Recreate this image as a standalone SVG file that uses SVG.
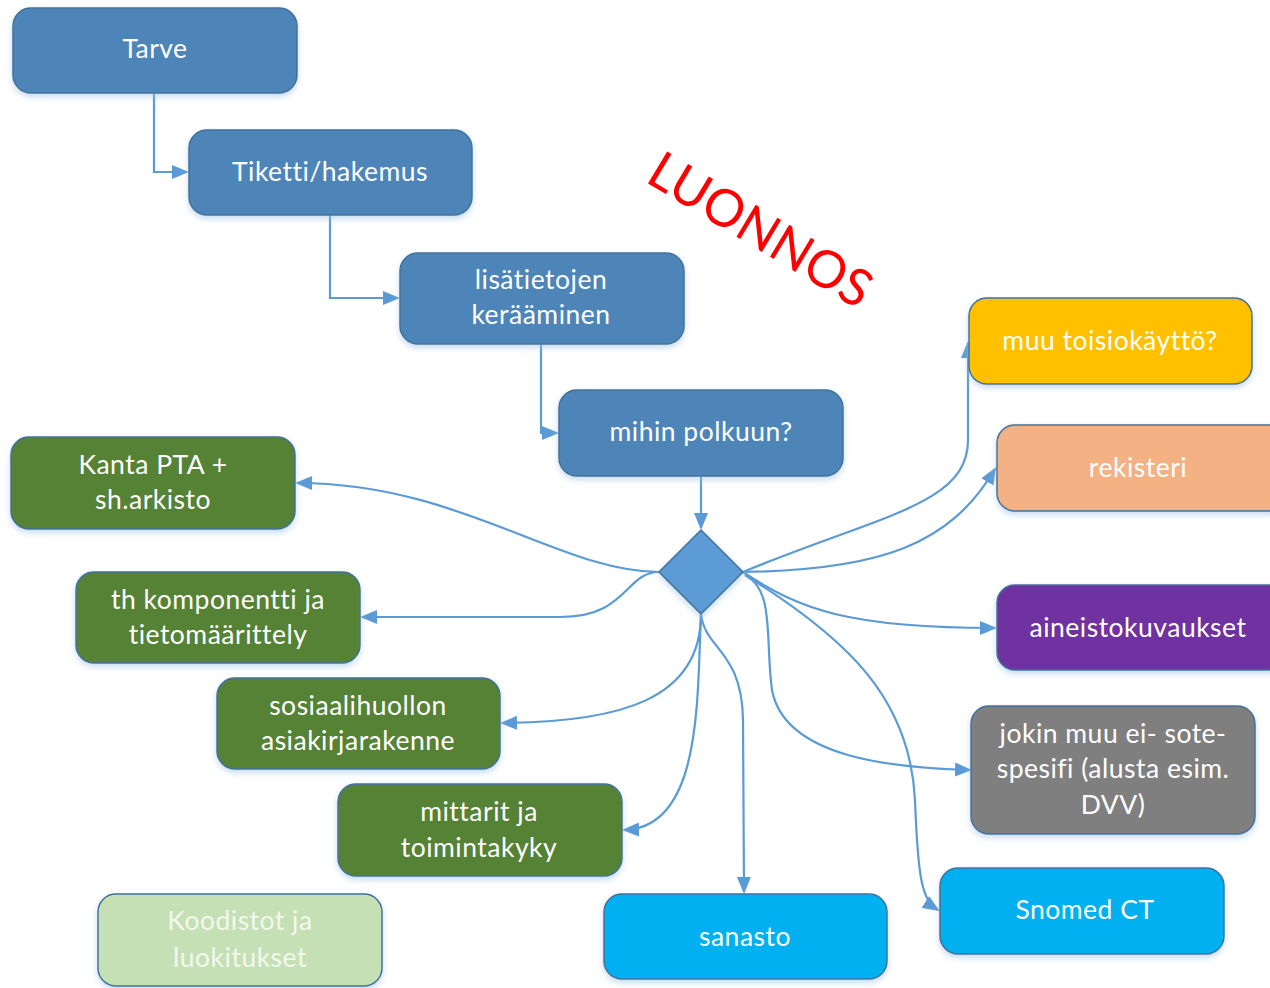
<svg xmlns="http://www.w3.org/2000/svg" width="1270" height="988" viewBox="0 0 1270 988">
<style>
.box{stroke:#41719c;stroke-width:1.5;filter:url(#sh)}
.t{font-family:Lato,"Open Sans","Liberation Sans",sans-serif;font-size:26.5px;letter-spacing:0.5px;font-variant-ligatures:none;fill:#ffffff;text-anchor:middle}
.c{fill:none;stroke:#5b9bd5;stroke-width:2.2}
</style>
<defs>
<filter id="sh" x="-10%" y="-10%" width="120%" height="130%">
<feDropShadow dx="0" dy="3" stdDeviation="3" flood-color="#9dc3e6" flood-opacity="0.6"/>
</filter>
<marker id="b" markerWidth="17" markerHeight="16" refX="15" refY="8" orient="auto" markerUnits="userSpaceOnUse" viewBox="0 0 17 16">
<path d="M0,1 L17,8 L0,15 z" fill="#5b9bd5"/>
</marker>
</defs>
<rect width="1270" height="988" fill="#ffffff"/>

<g id="connectors">
<path class="c" marker-end="url(#b)" d="M154,93 L154,172 L187,172"/>
<path class="c" marker-end="url(#b)" d="M330,215 L330,298 L398,298"/>
<path class="c" marker-end="url(#b)" d="M541,344 L541,433 L557,433"/>
<path class="c" marker-end="url(#b)" d="M701,476 L701,528"/>
<path class="c" marker-end="url(#b)" d="M659,572 C 560,572 460,483 297,483"/>
<path class="c" marker-end="url(#b)" d="M659,572 C 625,572 628,617 560,617 L 362,617"/>
<path class="c" marker-end="url(#b)" d="M701,614 C 701,700 620,722 502,723"/>
<path class="c" marker-end="url(#b)" d="M701,614 C 697,700 702,828 624,830"/>
<path class="c" marker-end="url(#b)" d="M701,614 C 705,650 742,650 743,720 L 744,892"/>
<path class="c" marker-end="url(#b)" d="M743,572 C 880,515 968,505 968,440 L 968,343"/>
<path class="c" marker-end="url(#b)" d="M743,572 C 880,570 950,545 995,469"/>
<path class="c" marker-end="url(#b)" d="M743,572 C 800,610 850,628 995,628"/>
<path class="c" marker-end="url(#b)" d="M745,575 C 775,590 765,640 772,690 C 785,760 900,768 970,770"/>
<path class="c" marker-end="url(#b)" d="M745,575 C 850,640 910,700 915,800 C 918,880 922,900 938,910"/>
</g>

<g id="tarve"><rect class="box" x="13" y="8" width="284" height="85" rx="18" fill="#4e85b9"/><text class="t" x="155" y="58">Tarve</text></g>
<g id="tiketti"><rect class="box" x="189" y="130" width="283" height="85" rx="18" fill="#4e85b9"/><text class="t" x="330" y="181">Tiketti/hakemus</text></g>
<g id="lisatietojen"><rect class="box" x="400" y="253" width="284" height="91" rx="18" fill="#4e85b9"/><text class="t" x="541" y="289">lisätietojen</text><text class="t" x="541" y="324">kerääminen</text></g>
<g id="mihin"><rect class="box" x="559" y="390" width="284" height="86" rx="18" fill="#4e85b9"/><text class="t" x="701" y="441">mihin polkuun?</text></g>
<g id="diamond"><path class="box" d="M701,530 L743,572 L701,614 L659,572 z" fill="#5b9bd5" stroke="none"/></g>

<g id="kanta"><rect class="box" x="11" y="437" width="284" height="92" rx="18" fill="#548235"/><text class="t" x="153" y="474">Kanta PTA +</text><text class="t" x="153" y="509">sh.arkisto</text></g>
<g id="th"><rect class="box" x="76" y="572" width="284" height="91" rx="18" fill="#548235"/><text class="t" x="218" y="609">th komponentti ja</text><text class="t" x="218" y="644">tietomäärittely</text></g>
<g id="sosiaali"><rect class="box" x="217" y="678" width="283" height="91" rx="18" fill="#548235"/><text class="t" x="358" y="715">sosiaalihuollon</text><text class="t" x="358" y="750">asiakirjarakenne</text></g>
<g id="mittarit"><rect class="box" x="338" y="784" width="284" height="92" rx="18" fill="#548235"/><text class="t" x="479" y="821">mittarit ja</text><text class="t" x="479" y="857">toimintakyky</text></g>
<g id="koodistot"><rect class="box" x="98" y="894" width="284" height="92" rx="18" fill="#c5e0b4"/><text class="t" x="240" y="930" style="fill:#f2f8ee">Koodistot ja</text><text class="t" x="240" y="967" style="fill:#f2f8ee">luokitukset</text></g>
<g id="sanasto"><rect class="box" x="604" y="894" width="283" height="85" rx="18" fill="#00b0f0"/><text class="t" x="745" y="946">sanasto</text></g>
<g id="snomed"><rect class="box" x="940" y="868" width="284" height="86" rx="18" fill="#00b0f0"/><text class="t" x="1085" y="919">Snomed CT</text></g>
<g id="muu"><rect class="box" x="969" y="298" width="283" height="86" rx="18" fill="#ffc000"/><text class="t" x="1110" y="350">muu toisiokäyttö?</text></g>
<g id="rekisteri"><rect class="box" x="997" y="425" width="290" height="86" rx="18" fill="#f4b183"/><text class="t" x="1138" y="477">rekisteri</text></g>
<g id="aineisto"><rect class="box" x="997" y="585" width="290" height="85" rx="18" fill="#7030a0"/><text class="t" x="1138" y="637">aineistokuvaukset</text></g>
<g id="jokin"><rect class="box" x="971" y="706" width="284" height="128" rx="18" fill="#7f7f7f"/><text class="t" x="1113" y="743">jokin muu ei- sote-</text><text class="t" x="1113" y="778">spesifi (alusta esim.</text><text class="t" x="1113" y="814">DVV)</text></g>

<text x="0" y="0" transform="translate(644,181) rotate(31)" font-family="Lato,'Open Sans','Liberation Sans',sans-serif" font-size="52" fill="#ff0000" textLength="250" lengthAdjust="spacingAndGlyphs">LUONNOS</text>
</svg>
